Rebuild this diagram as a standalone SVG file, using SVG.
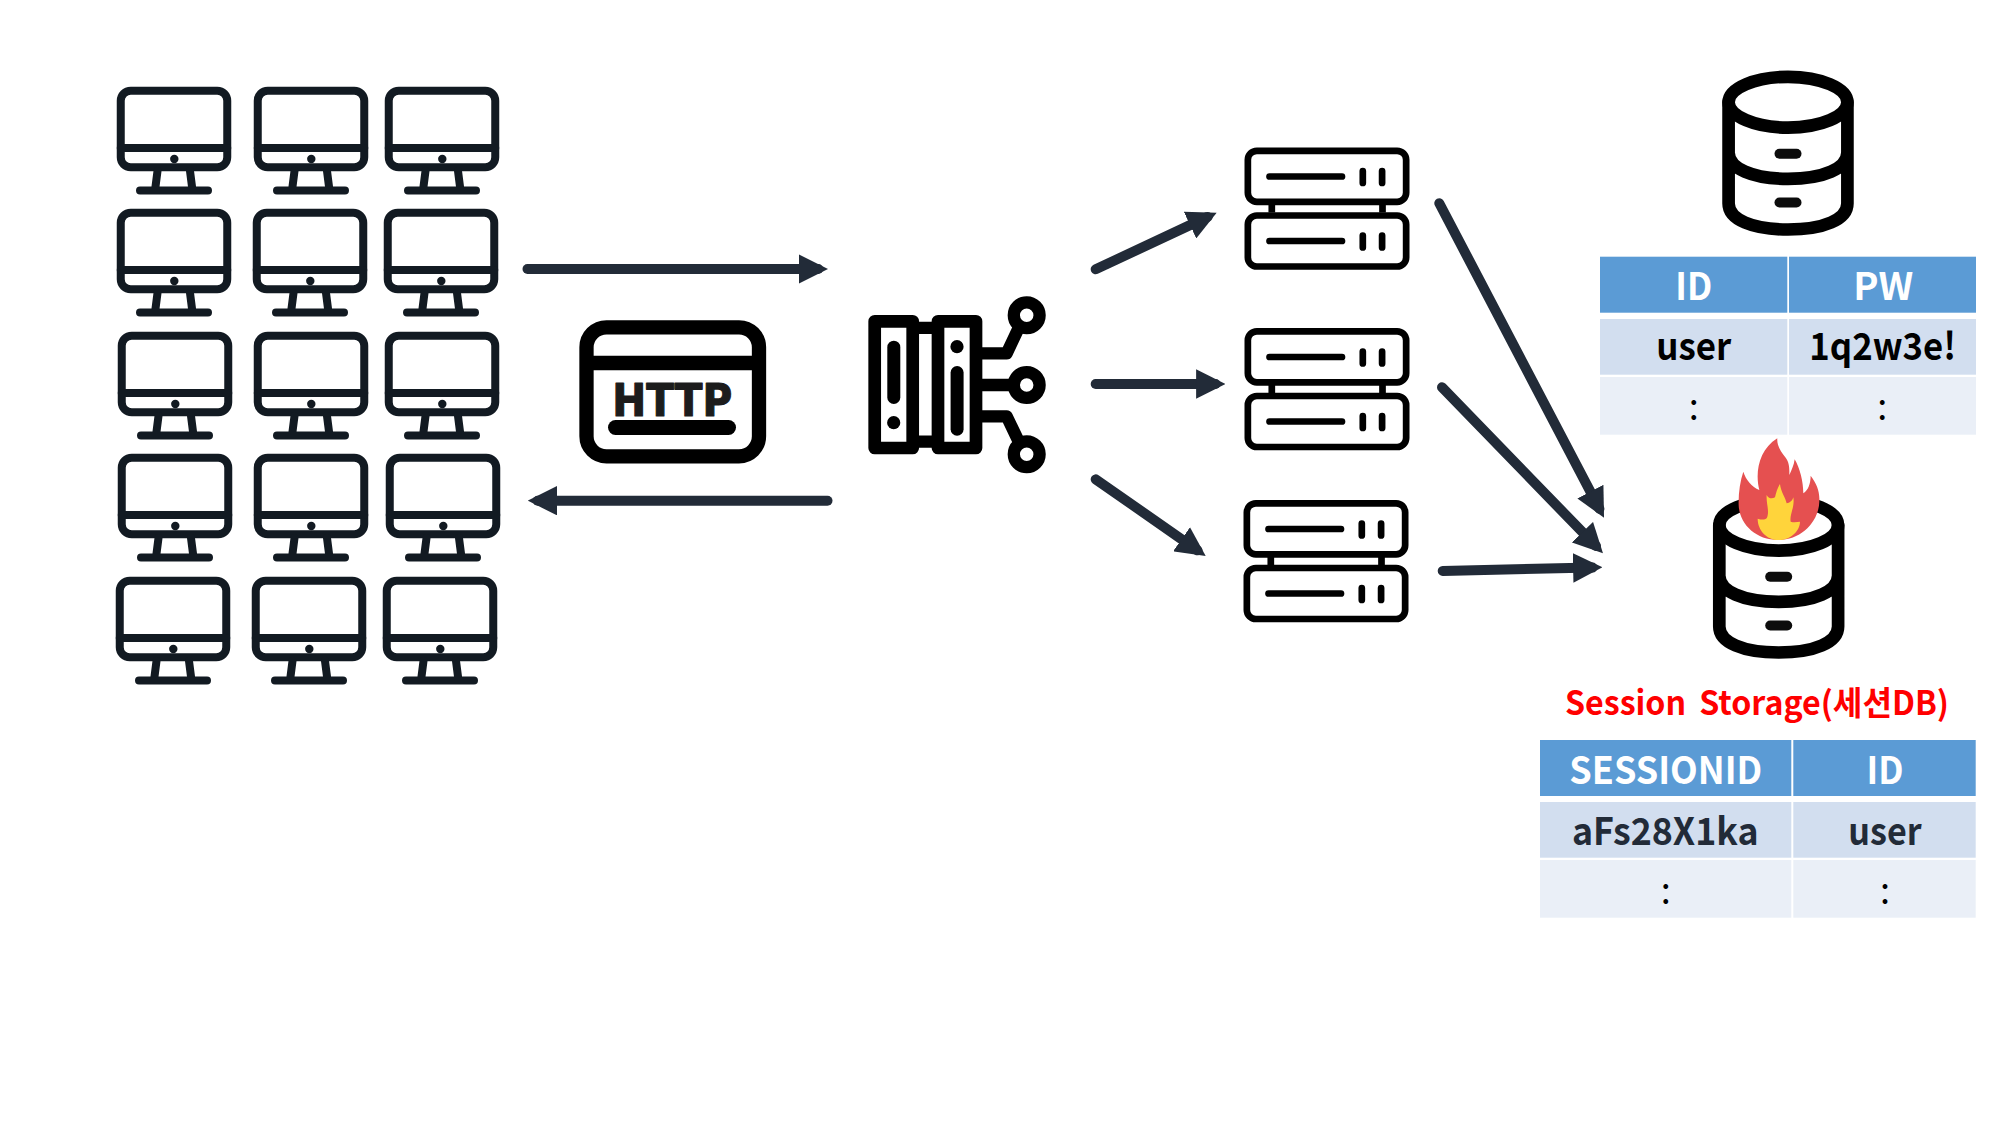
<svg xmlns="http://www.w3.org/2000/svg" width="2000" height="1125" viewBox="0 0 2000 1125">
<style>
text{font-family:"Noto Sans CJK KR","Noto Sans",sans-serif;text-anchor:middle}
.h{font-size:38px;font-weight:700;fill:#fff}
.c{font-size:38px;font-weight:700;fill:#222b38}
.k{font-size:38px;font-weight:700;fill:#000}
.d{font-size:36px;font-weight:400;fill:#000}
.m{fill:none;stroke:#121a22;stroke-width:8;stroke-linecap:round;stroke-linejoin:round}
.s{fill:none;stroke:#000;stroke-width:6.7;stroke-linecap:round}
.b{fill:none;stroke:#000;stroke-width:12.7;stroke-linecap:round;stroke-linejoin:round}
.a{fill:none;stroke:#222b38;stroke-width:10;stroke-linecap:round}
.blue{fill:#5b9bd5}.mid{fill:#d2deef}.lite{fill:#eaeff7}
</style>
<defs>
<marker id="ah" markerUnits="userSpaceOnUse" viewBox="0 0 29.4 29.4" markerWidth="29.4" markerHeight="29.4" refX="19.4" refY="14.7" orient="auto"><path d="M0 0L29.4 14.7L0 29.4Z" fill="#222b38"/></marker>
<symbol id="pc" width="120" height="112" viewBox="0 0 120 112" overflow="visible">
<rect class="m" x="3.75" y="3.75" width="106.5" height="76.5" rx="10"/>
<path class="m" d="M3.75 61H110.25M40.5 84L38 103.5M73 84L75.5 103.5M23 103.5H91" stroke-linecap="butt"/>
<circle cx="57.3" cy="72" r="4.2" fill="#121a22"/>
</symbol>
<symbol id="srv" width="170" height="126" viewBox="0 0 170 126" overflow="visible">
<rect class="s" x="3.35" y="3.35" width="158.3" height="51" rx="9"/>
<rect class="s" x="3.35" y="68" width="158.3" height="51" rx="9"/>
<path class="s" style="stroke-linecap:butt" d="M27.3 57V65M138 57V65"/>
<path class="s" d="M25 29H97.5M118.3 23.5V35.5M137.6 23.5V35.5M25 93.5H97.5M118.3 88V100M137.6 88V100"/>
</symbol>
<symbol id="db" width="134" height="168" viewBox="0 0 134 168" overflow="visible">
<ellipse cx="65.7" cy="31.7" rx="59.4" ry="25.4" fill="none" stroke="#000" stroke-width="12.7"/>
<path fill="none" stroke="#000" stroke-width="12.7" stroke-linecap="round" d="M6.3 31.7V133C6.3 149 30 159 65.7 159S125.1 149 125.1 133V31.7M6.3 82C6.3 98 30 108.300 65.7 108.300S125.100 98 125.100 82"/>
<rect x="52.200" y="78.300" width="27" height="10" rx="5" fill="#0c0c0c"/>
<rect x="52.200" y="127" width="27" height="10" rx="5" fill="#0c0c0c"/>
</symbol>
</defs>
<rect width="2000" height="1125" fill="#fff"/>

<g id="clients">
<use href="#pc" x="117" y="87"/><use href="#pc" x="254" y="87"/><use href="#pc" x="385" y="87"/>
<use href="#pc" x="117" y="209"/><use href="#pc" x="253" y="209"/><use href="#pc" x="384" y="209"/>
<use href="#pc" x="118" y="332"/><use href="#pc" x="254" y="332"/><use href="#pc" x="385" y="332"/>
<use href="#pc" x="118" y="454"/><use href="#pc" x="254" y="454"/><use href="#pc" x="386" y="454"/>
<use href="#pc" x="116" y="577"/><use href="#pc" x="252" y="577"/><use href="#pc" x="383" y="577"/>
</g>

<g id="connectors">
<path class="a" marker-end="url(#ah)" d="M527.500 269H818.200"/>
<path class="a" marker-end="url(#ah)" d="M827.500 500.700H537.700"/>
<path class="a" marker-end="url(#ah)" d="M1095.700 269.300L1207.600 216.900"/>
<path class="a" marker-end="url(#ah)" d="M1095.700 384H1215.500"/>
<path class="a" marker-end="url(#ah)" d="M1095.700 479.300L1197.500 550.300"/>
<path class="a" marker-end="url(#ah)" d="M1439.300 203.300L1599.400 508.800"/>
<path class="a" marker-end="url(#ah)" d="M1442 387.300L1596 546.100"/>
<path class="a" marker-end="url(#ah)" d="M1442.700 571L1592.500 567.500"/>
</g>

<g id="http">
<rect x="586.500" y="327.300" width="172.500" height="129" rx="20" fill="none" stroke="#000" stroke-width="14.300"/>
<path d="M586.500 363H759" stroke="#000" stroke-width="14.300"/>
<text x="672.300" y="416" font-size="44" font-weight="700" fill="#1c1c1c" stroke="#1c1c1c" stroke-width="1.200" stroke-linejoin="round" textLength="120" lengthAdjust="spacingAndGlyphs" style="font-family:'DejaVu Sans',sans-serif">HTTP</text>
<rect x="608" y="420" width="128" height="15" rx="7.500" fill="#000"/>
</g>

<g id="balancer">
<rect class="b" x="874.700" y="321.300" width="38" height="126.700"/>
<rect class="b" x="938" y="321.300" width="38" height="126.700"/>
<path fill="none" stroke="#000" stroke-width="12.300" d="M918 327.800H932M918 441.700H932"/>
<rect x="887.300" y="340.700" width="13" height="63.300" rx="6.500"/>
<circle cx="893.700" cy="422.700" r="6.600"/>
<circle cx="957" cy="346.700" r="6.600"/>
<rect x="950.600" y="366" width="13" height="69.700" rx="6.500"/>
<g fill="none" stroke="#000" stroke-width="12.300" stroke-linejoin="round">
<circle cx="1026.700" cy="315.300" r="12.900"/><circle cx="1026.700" cy="385" r="12.900"/><circle cx="1026.700" cy="454.300" r="12.900"/>
<path d="M982 353.300H1006.700L1018 329.300M982 385H1014M982 416.300H1006.700L1018 440"/>
</g>
</g>

<g id="server1"><use href="#srv" x="1244.500" y="147.500"/></g>
<g id="server2"><use href="#srv" x="1244.500" y="328"/></g>
<g id="server3"><use href="#srv" x="1243.500" y="500"/></g>

<g id="user-db"><use href="#db" x="1722.300" y="70.500"/></g>

<g id="user-table">
<rect class="blue" x="1600" y="256.700" width="187.300" height="56"/>
<rect class="blue" x="1789" y="256.700" width="187" height="56"/>
<rect class="mid" x="1600" y="319" width="187.300" height="55.700"/>
<rect class="mid" x="1789" y="319" width="187" height="55.700"/>
<rect class="lite" x="1600" y="377" width="187.300" height="57.700"/>
<rect class="lite" x="1789" y="377" width="187" height="57.700"/>
<text class="h" x="1693.700" y="300" textLength="37" lengthAdjust="spacingAndGlyphs">ID</text>
<text class="h" x="1883.300" y="300" textLength="60" lengthAdjust="spacingAndGlyphs">PW</text>
<text class="k" x="1693.700" y="360" textLength="75" lengthAdjust="spacingAndGlyphs">user</text>
<text class="k" x="1882.700" y="360" textLength="146.700" lengthAdjust="spacingAndGlyphs">1q2w3e!</text>
<text class="d" x="1693.700" y="419.700">:</text>
<text class="d" x="1882.300" y="419.700">:</text>
</g>

<g id="session-db">
<use href="#db" x="1713" y="493.500"/>
<g transform="translate(1660 420) scale(.3333)">
<path fill="#e55050" d="M352 55C350 75 362 95 376 112C390 130 388 150 388 165C395 150 402 135 404 118C420 145 430 185 430 220C445 210 452 190 452 167C470 190 480 215 478 245C476 305 425 360 355 360C285 360 238 310 236 255C235 220 240 185 250 155C258 180 275 200 298 210C285 160 295 90 352 55Z"/>
<path fill="#ffd43b" d="M360 192C362 215 378 235 380 250C392 248 398 240 400 232C405 260 388 285 392 305C402 308 412 306 420 305C420 330 395 360 355 360C320 360 293 330 293 296C305 300 315 300 320 295C330 275 318 250 320 225C325 235 335 238 345 232C348 218 352 205 360 192Z"/>
</g>
</g>

<g id="session-label">
<text x="1757" y="715" font-size="33" font-weight="700" fill="#ff0000" textLength="384" lengthAdjust="spacingAndGlyphs" style="word-spacing:6px">Session Storage(세션DB)</text>
</g>

<g id="session-table">
<rect class="blue" x="1540" y="740" width="251.300" height="56"/>
<rect class="blue" x="1793.300" y="740" width="182.400" height="56"/>
<rect class="mid" x="1540" y="802" width="251.300" height="55.700"/>
<rect class="mid" x="1793.300" y="802" width="182.400" height="55.700"/>
<rect class="lite" x="1540" y="860" width="251.300" height="57.700"/>
<rect class="lite" x="1793.300" y="860" width="182.400" height="57.700"/>
<text class="h" x="1665.800" y="784" textLength="193" lengthAdjust="spacingAndGlyphs">SESSIONID</text>
<text class="h" x="1885" y="784" textLength="37" lengthAdjust="spacingAndGlyphs">ID</text>
<text class="c" x="1665.300" y="844.700" textLength="186.700" lengthAdjust="spacingAndGlyphs">aFs28X1ka</text>
<text class="c" x="1885" y="844.700" textLength="73.300" lengthAdjust="spacingAndGlyphs">user</text>
<text class="d" x="1665.700" y="903.700">:</text>
<text class="d" x="1885" y="903.700">:</text>
</g>
</svg>
